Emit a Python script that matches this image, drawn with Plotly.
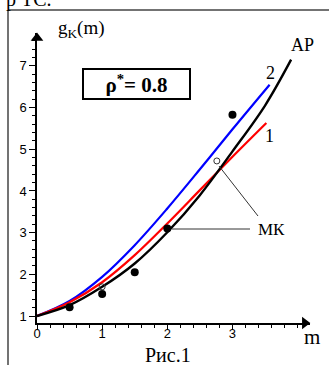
import plotly.graph_objects as go

# ---- data ----
m_ap = [0, 0.5, 1, 1.5, 2, 2.5, 3, 3.5, 3.9]
g_ap = [1, 1.26, 1.70, 2.26, 3.01, 3.90, 4.95, 6.05, 7.15]

m_2 = [0, 0.5, 1, 1.5, 2, 2.5, 3, 3.57]
g_2 = [1, 1.36, 1.94, 2.70, 3.58, 4.52, 5.48, 6.55]

m_1 = [0, 0.5, 1, 1.5, 2, 2.5, 3, 3.52]
g_1 = [1, 1.33, 1.81, 2.46, 3.22, 4.02, 4.82, 5.63]

m_mk = [0.5, 1, 1.5, 2, 3]
g_mk = [1.21, 1.53, 2.05, 3.10, 5.83]

m_open = [1, 2.76]
g_open = [1.70, 4.72]

x_ticks = [0, 1, 2, 3]
y_ticks = [1, 2, 3, 4, 5, 6, 7]

W, H = 329, 365
L, R, T, B = 37, 19, 33, 42
X_RANGE = [0, 4.19]
Y_RANGE = [0.832, 7.79]


def px(x):
    return (x - L) / (W - L - R)


def py(y):
    return (H - B - y) / (H - T - B)


fig = go.Figure()
fig.add_trace(go.Scatter(x=m_2, y=g_2, mode="lines", line=dict(color="#0000ff", width=2.2, shape="spline")))
fig.add_trace(go.Scatter(x=m_1, y=g_1, mode="lines", line=dict(color="#ff0000", width=2.2, shape="spline")))
fig.add_trace(go.Scatter(x=m_ap, y=g_ap, mode="lines", line=dict(color="black", width=2.4, shape="spline")))
fig.add_trace(go.Scatter(x=m_mk, y=g_mk, mode="markers", marker=dict(color="black", size=8)))
fig.add_trace(go.Scatter(x=m_open, y=g_open, mode="markers",
                         marker=dict(symbol="circle-open", color="#333", size=6, line=dict(width=1))))

# axis arrow heads
fig.add_trace(go.Scatter(x=[X_RANGE[1] - 0.08], y=[Y_RANGE[0]], mode="markers", cliponaxis=False,
                         marker=dict(symbol="triangle-right", color="black", size=11)))
fig.add_trace(go.Scatter(x=[0], y=[Y_RANGE[1] - 0.12], mode="markers", cliponaxis=False,
                         marker=dict(symbol="triangle-up", color="black", size=11)))

serif = "Liberation Serif"


def label(x, y, text, size, weight="normal", **kw):
    d = dict(xref="paper", yref="paper", x=px(x), y=py(y), text=text, showarrow=False,
             xanchor="center", yanchor="middle",
             font=dict(family=serif, size=size, color="black", weight=weight))
    d.update(kw)
    return d


ann = [
    label(136.5, 84, "ρ<sup>*</sup>= 0.8", 21, weight="bold", bordercolor="black", borderwidth=2,
          borderpad=2, width=101, height=24, bgcolor="white"),
    label(81, 29, "g<sub>K</sub>(m)", 19),
    label(302, 45, "АР", 18),
    label(270, 73, "2", 18),
    label(269, 136, "1", 18),
    label(271, 229, "МК", 17),
    label(312, 337, "m", 21),
    label(168, 355, "Рис.1", 20),
    label(4, -1, "р ТС.", 20, xanchor="left"),
]

shapes = [
    dict(type="line", xref="paper", yref="paper", x0=px(8), x1=px(8), y0=py(10), y1=py(366),
         line=dict(color="#444", width=1.5)),
    dict(type="line", xref="paper", yref="paper", x0=px(8), x1=px(330), y0=py(10), y1=py(10),
         line=dict(color="#444", width=1.5)),
    dict(type="line", xref="paper", yref="paper", x0=px(172), x1=px(250), y0=py(229), y1=py(229),
         line=dict(color="#333", width=1)),
    dict(type="line", xref="paper", yref="paper", x0=px(219), x1=px(258), y0=py(166), y1=py(216),
         line=dict(color="#333", width=1)),
]

tickfont = dict(family="Liberation Sans", size=13, color="black")
fig.update_layout(
    width=W, height=H, autosize=False,
    margin=dict(l=L, r=R, t=T, b=B, pad=0),
    paper_bgcolor="white", plot_bgcolor="white",
    showlegend=False,
    annotations=ann, shapes=shapes,
    xaxis=dict(range=X_RANGE, tickvals=x_ticks, ticktext=[str(v) for v in x_ticks],
               showgrid=False, zeroline=False, showline=True, linecolor="black", linewidth=1.5,
               ticks="outside", ticklen=5, tickwidth=1, tickcolor="black", tickfont=tickfont,
               ticklabelstandoff=-7,
               minor=dict(dtick=0.2, ticks="outside", ticklen=3, tickcolor="black", showgrid=False)),
    yaxis=dict(range=Y_RANGE, tickvals=y_ticks, ticktext=[str(v) for v in y_ticks],
               showgrid=False, zeroline=False, showline=True, linecolor="black", linewidth=1.5,
               ticks="outside", ticklen=6, tickwidth=1, tickcolor="black", tickfont=tickfont,
               minor=dict(dtick=0.2, ticks="outside", ticklen=3, tickcolor="black", showgrid=False)),
)

fig.write_html("out.html", config={"displayModeBar": False},
               post_script="document.body.style.margin='0';document.body.style.padding='0';"
                           "document.body.style.overflow='hidden';")
